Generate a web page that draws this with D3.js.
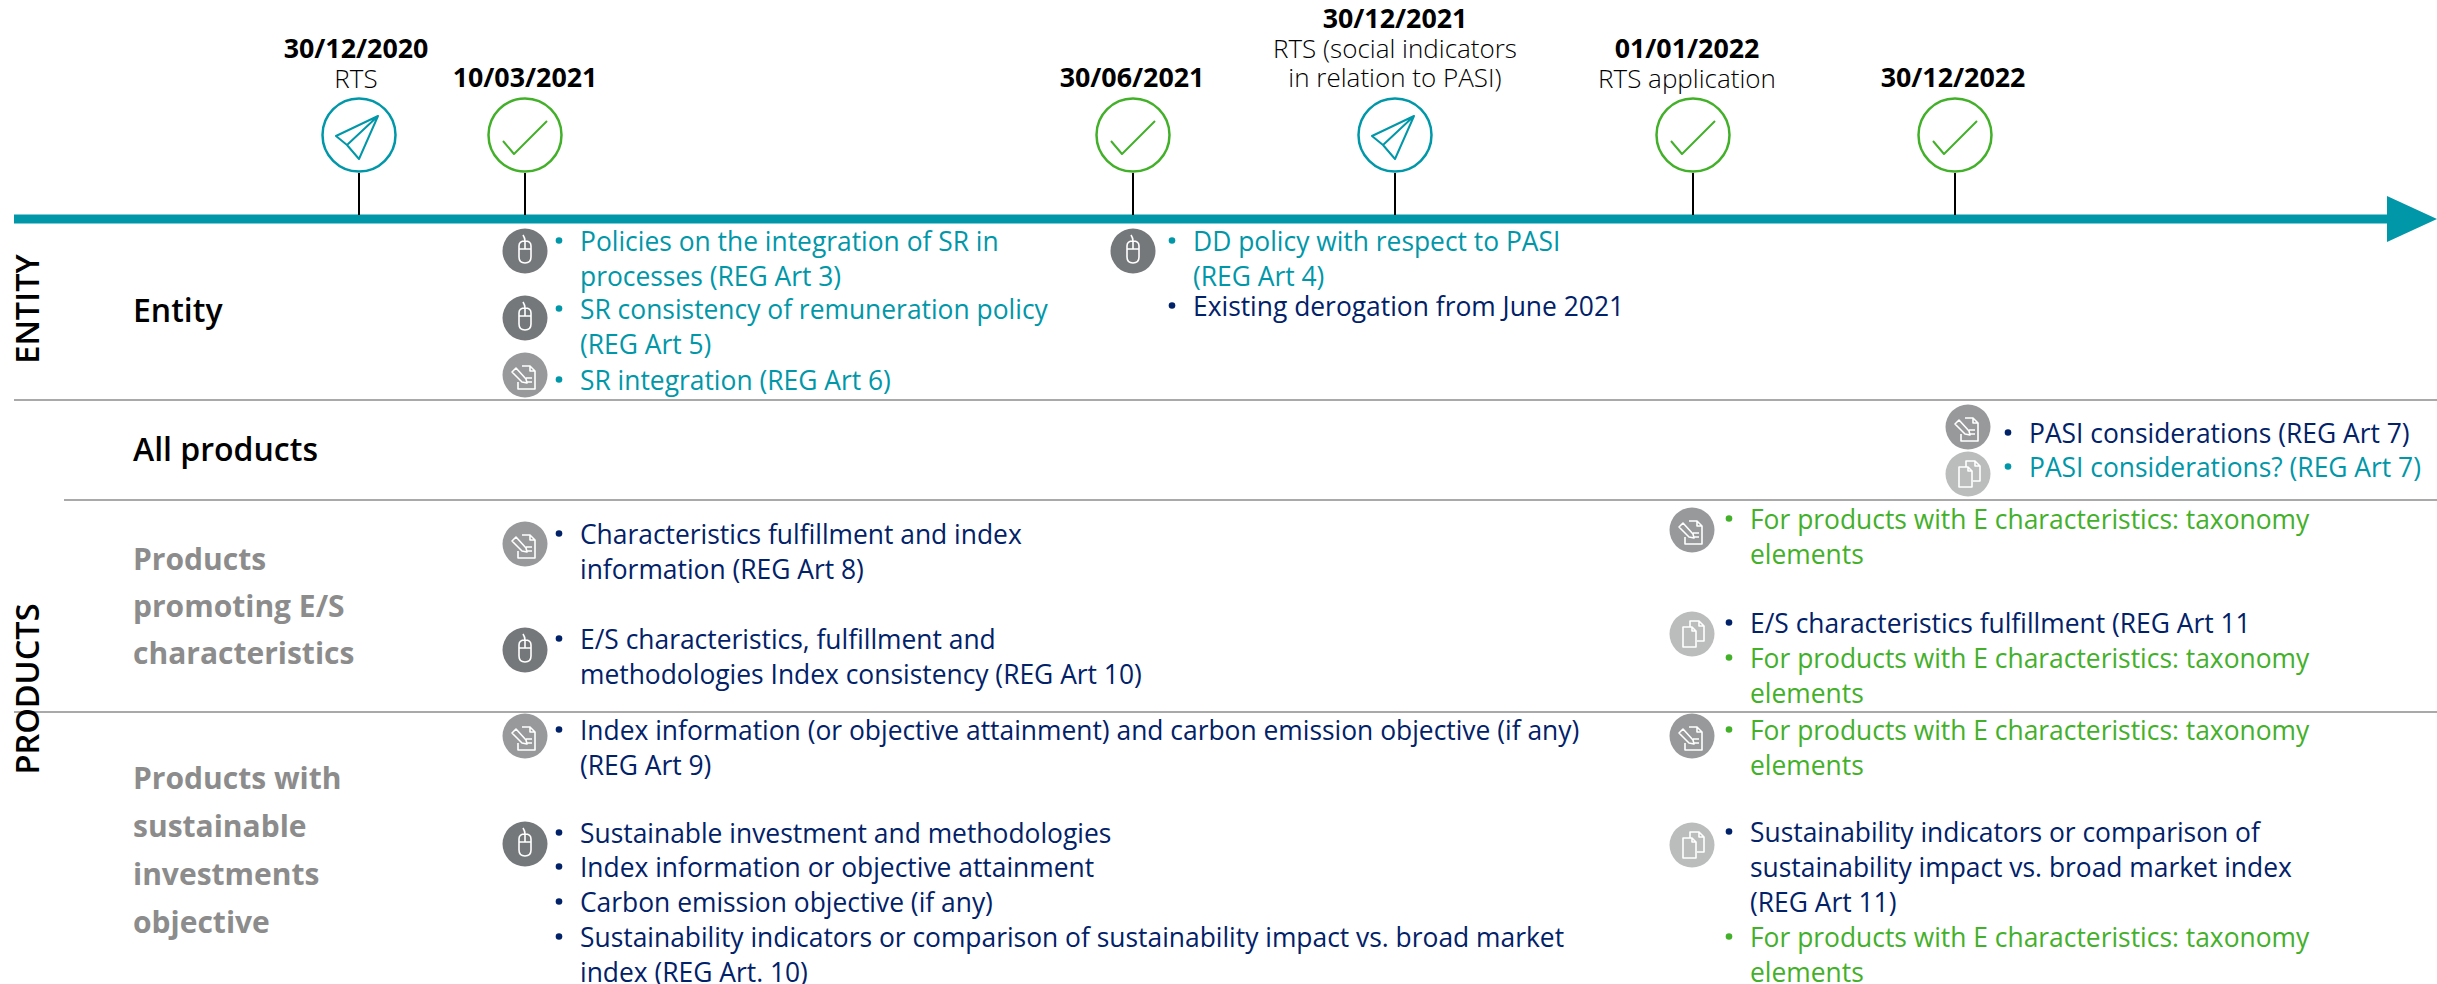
<!DOCTYPE html>
<html>
<head>
<meta charset="utf-8">
<title>Timeline</title>
<script src="https://cdn.jsdelivr.net/npm/d3@7"></script>
<style>
html, body { margin: 0; padding: 0; background: #fff; overflow: hidden; }
text { font-family: "Open Sans", sans-serif; }
</style>
</head>
<body>
<div id="chart"></div>
<script>
// milestones on the timeline
var milestoneDates = ['30/12/2020', '10/03/2021', '30/06/2021', '30/12/2021', '01/01/2022', '30/12/2022'];
var milestoneKinds = ['plane', 'check', 'check', 'plane', 'check', 'check'];
var milestoneCaptions = [
    ['RTS'],
    [],
    [],
    ['RTS (social indicators', 'in relation to PASI)'],
    ['RTS application'],
    []
];

var sideLabels = ['ENTITY', 'PRODUCTS'];
var rowNames = ['entity', 'all', 'es', 'sust'];
var rowLabels = [
    ['Entity'],
    ['All products'],
    ['Products', 'promoting E/S', 'characteristics'],
    ['Products with', 'sustainable', 'investments', 'objective']
];

// text blocks: id, column, colour key, lines
var noteIds = ['n1', 'n2', 'n3', 'n4', 'n5', 'n6', 'n7', 'n8', 'n9', 'n10', 'n11', 'n12', 'n13', 'n14', 'n15', 'n16', 'n17', 'n18', 'n19', 'n20'];
var noteColumns = ['c1', 'c1', 'c1', 'c2', 'c2', 'c4', 'c4', 'c1', 'c1', 'c3', 'c3', 'c3', 'c1', 'c1', 'c1', 'c1', 'c1', 'c3', 'c3', 'c3'];
var noteColors = ['teal', 'teal', 'teal', 'teal', 'navy', 'navy', 'teal', 'navy', 'navy', 'green', 'navy', 'green', 'navy', 'navy', 'navy', 'navy', 'navy', 'green', 'navy', 'green'];
var noteLines = [
    ['Policies on the integration of SR in', 'processes (REG Art 3)'],
    ['SR consistency of remuneration policy', '(REG Art 5)'],
    ['SR integration (REG Art 6)'],
    ['DD policy with respect to PASI', '(REG Art 4)'],
    ['Existing derogation from June 2021'],
    ['PASI considerations (REG Art 7)'],
    ['PASI considerations? (REG Art 7)'],
    ['Characteristics fulfillment and index', 'information (REG Art 8)'],
    ['E/S characteristics, fulfillment and', 'methodologies Index consistency (REG Art 10)'],
    ['For products with E characteristics: taxonomy', 'elements'],
    ['E/S characteristics fulfillment (REG Art 11'],
    ['For products with E characteristics: taxonomy', 'elements'],
    ['Index information (or objective attainment) and carbon emission objective (if any)', '(REG Art 9)'],
    ['Sustainable investment and methodologies'],
    ['Index information or objective attainment'],
    ['Carbon emission objective (if any)'],
    ['Sustainability indicators or comparison of sustainability impact vs. broad market', 'index (REG Art. 10)'],
    ['For products with E characteristics: taxonomy', 'elements'],
    ['Sustainability indicators or comparison of', 'sustainability impact vs. broad market index', '(REG Art 11)'],
    ['For products with E characteristics: taxonomy', 'elements']
];

// round badges beside the notes
var badgeIds = ['b1', 'b2', 'b3', 'b4', 'b5', 'b6', 'b7', 'b8', 'b9', 'b10', 'b11', 'b12', 'b13', 'b14'];
var badgeColumns = ['c1', 'c1', 'c1', 'c2', 'c4', 'c4', 'c1', 'c1', 'c3', 'c3', 'c1', 'c1', 'c3', 'c3'];
var badgeKinds = ['mouse', 'mouse', 'doc', 'mouse', 'doc', 'copy', 'doc', 'mouse', 'doc', 'copy', 'doc', 'mouse', 'doc', 'copy'];

function TimelineChart() {

    this.init = function() {
        this._config = { width: 2437, height: 984, lineHeight: 35, fontSize: 26.4 };
        this._colors = { teal: '#0097a9', navy: '#012169', green: '#43b02a' };
        this._initScales();
        this._rootNode = d3.select('#chart').append('svg')
            .attr('width', this._config.width)
            .attr('height', this._config.height)
            .style('display', 'block');
        this._drawAxis();
        this._drawMilestones();
        this._drawRows();
        this._drawNotes();
        this._drawBadges();
    };

    this._initScales = function() {
        this._timeX = d3.scaleOrdinal().domain(milestoneDates)
            .range([359, 525, 1133, 1395, 1693, 1955]);
        this._dateY = d3.scaleOrdinal().domain(milestoneDates)
            .range([58, 87, 87, 28, 58, 87]);
        this._columnX = d3.scaleOrdinal().domain(['c1', 'c2', 'c3', 'c4'])
            .range([525, 1133, 1692, 1968]);
        this._textShift = d3.scaleOrdinal().domain(['c1', 'c2', 'c3', 'c4'])
            .range([55, 60, 58, 61]);
        this._noteY = d3.scaleOrdinal().domain(noteIds)
            .range([251, 319, 390, 251, 316, 443, 477, 544, 649, 529, 633, 668, 740, 843, 877, 912, 947, 740, 842, 947]);
        this._badgeY = d3.scaleOrdinal().domain(badgeIds)
            .range([251, 318, 375, 251, 427, 474, 544, 650, 530, 634, 736, 844, 736, 845]);
        this._badgeFill = d3.scaleOrdinal().domain(['mouse', 'doc', 'copy'])
            .range(['#75787b', '#97999b', '#bbbcbc']);
        this._rowY = d3.scaleOrdinal().domain(rowNames).range([322, 461, 570, 789]);
        this._ruleY = d3.scaleOrdinal().domain(['entity', 'all', 'es']).range([400, 500, 712]);
        this._ruleStart = d3.scaleOrdinal().domain(['entity', 'all', 'es']).range([14, 64, 14]);
        this._rowStep = d3.scaleOrdinal().domain(rowNames).range([0, 0, 47, 48]);
        this._sideY = d3.scaleOrdinal().domain(sideLabels).range([309, 689]);
    };

    this._drawAxis = function() {
        var axisY = 219;
        this._rootNode.append('rect')
            .attr('x', 14).attr('y', axisY - 4.5)
            .attr('width', 2380).attr('height', 9)
            .attr('fill', this._colors.teal);
        this._rootNode.append('path')
            .attr('d', d3.line()([[2387, 196], [2437, 219], [2387, 242]]) + 'Z')
            .attr('fill', this._colors.teal);
    };

    this._drawMilestones = function() {
        var self = this;
        var groups = this._rootNode.selectAll('g.milestone').data(milestoneDates).enter()
            .append('g').attr('class', 'milestone');

        groups.append('line')
            .attr('x1', function(d) { return self._timeX(d); })
            .attr('x2', function(d) { return self._timeX(d); })
            .attr('y1', 173).attr('y2', 215)
            .attr('stroke', '#000').attr('stroke-width', 2);

        groups.each(function(d, i) {
            var group = d3.select(this);
            var color = milestoneKinds[i] === 'plane' ? self._colors.teal : self._colors.green;
            var mark = group.append('g')
                .attr('transform', 'translate(' + self._timeX(d) + ',135)')
                .attr('fill', 'none').attr('stroke', color).attr('stroke-linejoin', 'round');
            mark.append('circle').attr('r', 36.5).attr('fill', '#fff').attr('stroke-width', 2.5);
            mark.append('path').attr('stroke-width', 2)
                .attr('d', milestoneKinds[i] === 'plane'
                    ? 'M19,-19L-23,1L-12,10L0,24ZM19,-19L-12,10'
                    : 'M-22,6L-11,19L22,-14');

            var textX = self._timeX(d) + [-3, 0, -1, 0, -6, -2][i];
            group.append('text')
                .attr('x', textX).attr('y', self._dateY(d))
                .attr('text-anchor', 'middle')
                .attr('font-size', 26.8).attr('font-weight', 700).attr('fill', '#000')
                .text(d);
            milestoneCaptions[i].forEach(function(caption, k) {
                group.append('text')
                    .attr('x', textX).attr('y', self._dateY(d) + (k + 1) * 29.5)
                    .attr('text-anchor', 'middle')
                    .attr('font-size', 26).attr('font-weight', 300).attr('fill', '#000')
                    .text(caption);
            });
        });
    };

    this._drawRows = function() {
        var self = this;
        ['entity', 'all', 'es'].forEach(function(name) {
            self._rootNode.append('line')
                .attr('x1', self._ruleStart(name)).attr('x2', 2437)
                .attr('y1', self._ruleY(name)).attr('y2', self._ruleY(name))
                .attr('stroke', '#8c8c8c').attr('stroke-width', 1.5);
        });

        this._rootNode.selectAll('text.side').data(sideLabels).enter()
            .append('text').attr('class', 'side')
            .attr('transform', function(d) { return 'translate(39,' + self._sideY(d) + ') rotate(-90)'; })
            .attr('text-anchor', 'middle')
            .attr('font-size', 32.5).attr('font-weight', 600).attr('fill', '#000')
            .text(function(d) { return d; });

        rowNames.forEach(function(name, i) {
            rowLabels[i].forEach(function(label, k) {
                self._rootNode.append('text')
                    .attr('x', 133).attr('y', self._rowY(name) + k * self._rowStep(name))
                    .attr('font-size', i < 2 ? 32 : 30)
                    .attr('font-weight', i < 2 ? 600 : 700)
                    .attr('fill', i < 2 ? '#000' : '#8c8c8c')
                    .text(label);
            });
        });
    };

    this._drawNotes = function() {
        var self = this;
        noteIds.forEach(function(id, i) {
            var x = self._columnX(noteColumns[i]);
            var shift = self._textShift(noteColumns[i]);
            var y = self._noteY(id);
            var color = self._colors[noteColors[i]];
            self._rootNode.append('circle')
                .attr('cx', x + shift - 21).attr('cy', y - 10.5).attr('r', 3.3).attr('fill', color);
            noteLines[i].forEach(function(line, k) {
                self._rootNode.append('text')
                    .attr('x', x + shift).attr('y', y + k * self._config.lineHeight)
                    .attr('font-size', self._config.fontSize)
                    .attr('fill', color)
                    .text(line);
            });
        });
    };

    this._drawBadges = function() {
        var self = this;
        var badges = this._rootNode.selectAll('g.badge').data(badgeIds).enter()
            .append('g').attr('class', 'badge')
            .attr('transform', function(d, i) {
                return 'translate(' + self._columnX(badgeColumns[i]) + ',' + self._badgeY(d) + ')';
            });
        badges.append('circle').attr('r', 22.5)
            .attr('fill', function(d, i) { return self._badgeFill(badgeKinds[i]); });
        badges.append('path')
            .attr('fill', 'none').attr('stroke', '#fff').attr('stroke-width', 1.6)
            .attr('stroke-linejoin', 'round')
            .attr('d', function(d, i) { return self._glyphs[badgeKinds[i]]; });
    };

    this._glyphs = {
        mouse: 'M-6,-5Q-6,-10 0,-10Q6,-10 6,-5L6,6Q6,12 0,12Q-6,12 -6,6ZM-6,-2L6,-2M0,-10L0,-2M0,-10Q0,-13 -2,-16',
        doc: 'M-3,-9L5,-9L10,-4L10,14L-7,14L-7,7M5,-9L5,-4L10,-4M1,3L7,3M1,7L7,7M-13,-3L-9,-7L1,4L2,8L-3,7Z',
        copy: 'M-2,-7L-2,-13L7,-13L12,-8L12,7L5,7M7,-13L7,-8L12,-8M-9,-7L0,-7L4,-3L4,13L-9,13ZM0,-7L0,-3L4,-3'
    };

    this.init();
}

function initApp() {
    if (typeof(window.timelineChart) === 'undefined') {
        window.timelineChart = new TimelineChart();
    }
}
document.addEventListener('DOMContentLoaded', initApp);
</script>
</body>
</html>
